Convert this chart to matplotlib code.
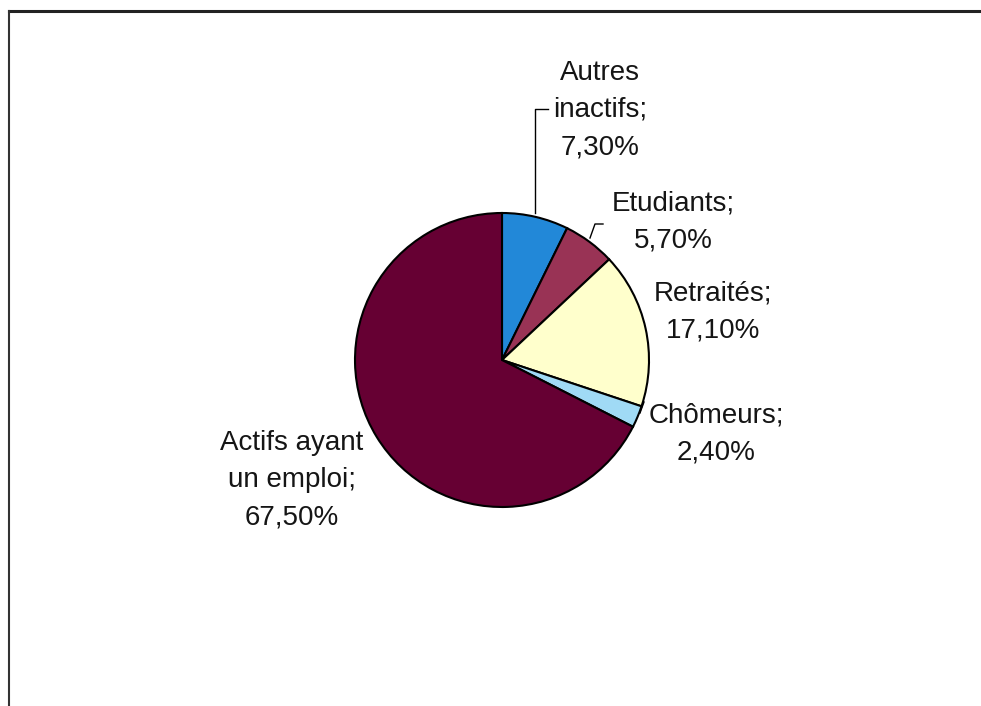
import matplotlib.pyplot as plt

# data
labels = ["Autres\ninactifs;", "Etudiants;", "Retraités;", "Chômeurs;", "Actifs ayant\nun emploi;"]
pct_text = ["7,30%", "5,70%", "17,10%", "2,40%", "67,50%"]
values = [7.3, 5.7, 17.1, 2.4, 67.5]
colors = ["#2288d8", "#993355", "#ffffcc", "#a0daf5", "#660033"]

W, H = 981, 706
plt.rcParams['font.family'] = ['Liberation Sans', 'DejaVu Sans']

fig = plt.figure(figsize=(W / 100, H / 100), dpi=100)
ax = fig.add_axes([0, 0, 1, 1])


def py(y):
    # pixel row (from top) -> data y
    return H - y


# pie, clockwise from 12 o'clock
ax.pie(values, colors=colors, startangle=90, counterclock=False,
       center=(502, py(360)), radius=147, frame=True,
       wedgeprops=dict(edgecolor='black', linewidth=1.5))
ax.set_xlim(0, W)
ax.set_ylim(0, H)
ax.set_aspect('auto')
ax.axis('off')

# label blocks (centre positions in pixels)
label_pos = [(600, 110), (673, 222), (713, 312), (716, 434), (292, 480)]
for lab, p, (x, y) in zip(labels, pct_text, label_pos):
    ax.text(x, py(y), lab + "\n" + p, ha='center', va='center',
            fontsize=20, linespacing=1.55, color='#151515')

# leader lines
ax.plot([535, 535, 548], [py(213), py(109), py(109)], color='black', lw=1)
ax.plot([590, 595, 603], [py(238), py(224), py(224)], color='black', lw=1)
ax.plot([640, 644], [py(413), py(402)], color='black', lw=1)

# frame of the scanned page (top and left only)
ax.plot([9, W], [py(11), py(11)], color='#222222', lw=2.2)
ax.plot([9, 9], [py(11), 0], color='#333333', lw=1.5)

fig.savefig('out.png', dpi=100)
